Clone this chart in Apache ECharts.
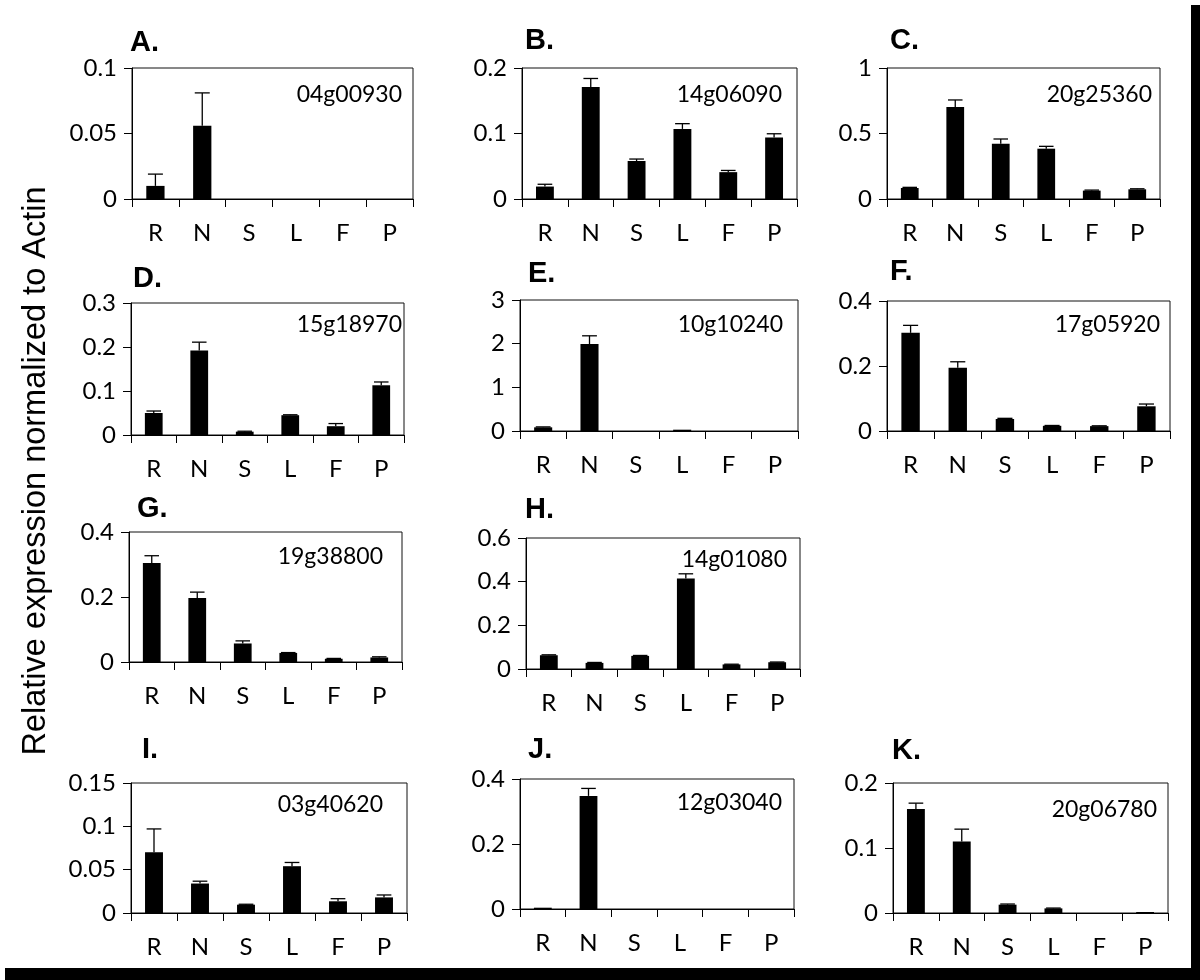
<!DOCTYPE html>
<html><head><meta charset="utf-8">
<script src="https://cdn.jsdelivr.net/npm/echarts/dist/echarts.min.js"></script>
<style>html,body{margin:0;padding:0;background:#fff}#c{width:1200px;height:980px}</style>
</head><body><div id="c"></div>
<script>
// ---- data ----
const categories = ['R', 'N', 'S', 'L', 'F', 'P'];
const panelLetters = ['A.', 'B.', 'C.', 'D.', 'E.', 'F.', 'G.', 'H.', 'I.', 'J.', 'K.'];
const geneIds = ['04g00930', '14g06090', '20g25360', '15g18970', '10g10240', '17g05920',
                 '19g38800', '14g01080', '03g40620', '12g03040', '20g06780'];
const yMax  = [0.1, 0.2, 1, 0.3, 3, 0.4, 0.4, 0.6, 0.15, 0.4, 0.2];
const yStep = [0.05, 0.1, 0.5, 0.1, 1, 0.2, 0.2, 0.2, 0.05, 0.2, 0.1];

const meanA = [0.010, 0.056, 0, 0, 0, 0];
const errA  = [0.009, 0.025, 0, 0, 0, 0];
const meanB = [0.019, 0.171, 0.058, 0.107, 0.041, 0.094];
const errB  = [0.0035, 0.013, 0.003, 0.008, 0.0026, 0.0056];
const meanC = [0.084, 0.702, 0.422, 0.384, 0.064, 0.074];
const errC  = [0.005, 0.054, 0.036, 0.018, 0.004, 0.004];
const meanD = [0.050, 0.192, 0.0076, 0.045, 0.020, 0.113];
const errD  = [0.0045, 0.019, 0.001, 0.001, 0.006, 0.0075];
const meanE = [0.084, 1.99, 0, 0.03, 0, 0];
const errE  = [0.01, 0.19, 0, 0, 0, 0];
const meanF = [0.302, 0.195, 0.037, 0.016, 0.015, 0.076];
const errF  = [0.023, 0.018, 0.002, 0.001, 0.001, 0.007];
const meanG = [0.305, 0.197, 0.057, 0.028, 0.010, 0.014];
const errG  = [0.022, 0.018, 0.008, 0.001, 0.001, 0.002];
const meanH = [0.063, 0.028, 0.060, 0.415, 0.021, 0.031];
const errH  = [0.002, 0.002, 0.002, 0.021, 0.001, 0.001];
const meanI = [0.070, 0.034, 0.0096, 0.054, 0.0135, 0.018];
const errI  = [0.027, 0.0027, 0.0005, 0.0043, 0.003, 0.0028];
const meanJ = [0.004, 0.348, 0, 0, 0, 0];
const errJ  = [0, 0.023, 0, 0, 0, 0];
const meanK = [0.160, 0.110, 0.0128, 0.0071, 0, 0.0015];
const errK  = [0.009, 0.019, 0.001, 0.0005, 0, 0];

const means = [meanA, meanB, meanC, meanD, meanE, meanF, meanG, meanH, meanI, meanJ, meanK];
const errs  = [errA, errB, errC, errD, errE, errF, errG, errH, errI, errJ, errK];

// ---- layout (pixels) ----
const boxes = [ // left, top, width, height
  [132, 68, 281, 131], [522, 68, 275, 131], [887, 68, 273, 131],
  [131, 303, 273, 132], [520, 300, 278, 131], [887, 301, 283, 130],
  [129, 532, 273, 130], [526, 538, 274, 131],
  [131, 783, 276, 130], [520, 779, 274, 130], [893, 783, 275, 130]
];
const genePos = [ // right x, center y
  [402, 95], [782, 95], [1152, 95],
  [402, 325], [783, 325], [1160, 325],
  [383, 557], [787, 560],
  [383, 805], [782, 803], [1157, 810]
];
const letterPos = [ // left x, center y
  [130, 43], [525, 41], [890, 41],
  [133, 279], [528, 274], [890, 272],
  [137, 509], [525, 510],
  [142, 750], [528, 750], [892, 751]
];

const FONT = 'Lato';
const grids = [], xAxes = [], yAxes = [], series = [], graphics = [];

function fmt(v) { return String(+v.toFixed(4)); }

for (let i = 0; i < 11; i++) {
  const b = boxes[i];
  grids.push({ left: b[0], top: b[1], width: b[2], height: b[3], show: true,
    borderColor: '#111', borderWidth: 1, containLabel: false });
  xAxes.push({ type: 'category', gridIndex: i, data: categories,
    axisLine: { lineStyle: { color: '#000', width: 1 } },
    axisTick: { show: true, length: 8, lineStyle: { color: '#000' } },
    axisLabel: { color: '#000', fontFamily: FONT, fontSize: 24, margin: 22 },
    splitLine: { show: false } });
  yAxes.push({ type: 'value', gridIndex: i, min: 0, max: yMax[i], interval: yStep[i],
    axisLine: { show: true, lineStyle: { color: '#000', width: 1 } },
    axisTick: { show: true, length: 8, lineStyle: { color: '#000' } },
    axisLabel: { color: '#000', fontFamily: FONT, fontSize: 24, margin: 15, formatter: fmt },
    splitLine: { show: false } });
  series.push({ type: 'bar', xAxisIndex: i, yAxisIndex: i, data: means[i],
    barWidth: '39%', itemStyle: { color: '#000' }, silent: true, animation: false });
  series.push({ type: 'custom', xAxisIndex: i, yAxisIndex: i, z: 3, animation: false, silent: true,
    data: means[i].map((m, k) => [k, m, errs[i][k]]),
    encode: { x: 0, y: 1 },
    renderItem: function (params, api) {
      const x = api.value(0), m = api.value(1), e = api.value(2);
      if (!(e > 0)) return null;
      const p0 = api.coord([x, m]);
      const p1 = api.coord([x, m + e]);
      const hw = api.size([1, 0])[0] * 0.16;
      return { type: 'group', children: [
        { type: 'line', shape: { x1: p0[0], y1: p0[1], x2: p1[0], y2: p1[1] },
          style: { stroke: '#000', lineWidth: 1.3 } },
        { type: 'line', shape: { x1: p1[0] - hw, y1: p1[1], x2: p1[0] + hw, y2: p1[1] },
          style: { stroke: '#000', lineWidth: 1.3 } }
      ] };
    } });
  graphics.push({ type: 'text', x: genePos[i][0], y: genePos[i][1], z: 10,
    style: { text: geneIds[i], fill: '#000', font: '23px ' + FONT, textAlign: 'right', textVerticalAlign: 'middle' } });
  graphics.push({ type: 'text', x: letterPos[i][0], y: letterPos[i][1], z: 10,
    style: { text: panelLetters[i], fill: '#000', font: 'bold 29px "Liberation Sans"', textAlign: 'left', textVerticalAlign: 'middle' } });
}

graphics.push({ type: 'text', x: 36, y: 471, rotation: Math.PI / 2, z: 10,
  style: { text: 'Relative expression normalized to Actin', fill: '#000',
    font: '32.5px "Liberation Sans"', textAlign: 'center', textVerticalAlign: 'middle' } });
graphics.push({ type: 'rect', shape: { x: 1191, y: 5, width: 9, height: 975 }, style: { fill: '#000' }, z: 20 });
graphics.push({ type: 'rect', shape: { x: 5, y: 968, width: 1195, height: 12 }, style: { fill: '#000' }, z: 20 });

const chart = echarts.init(document.getElementById('c'), null, { renderer: 'canvas' });
chart.setOption({
  backgroundColor: '#fff',
  animation: false,
  grid: grids, xAxis: xAxes, yAxis: yAxes, series: series, graphic: graphics
});
</script></body></html>
